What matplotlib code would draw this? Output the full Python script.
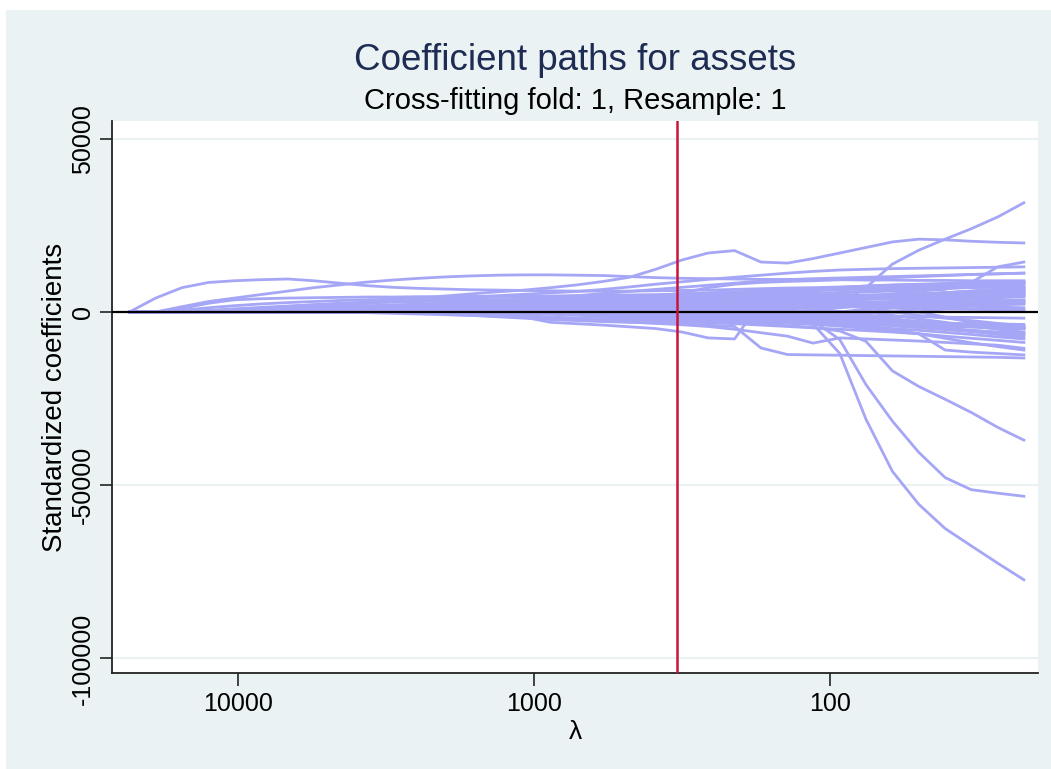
import matplotlib
matplotlib.use("Agg")
import matplotlib.pyplot as plt
from matplotlib.patches import Rectangle
from matplotlib.ticker import FixedLocator, NullLocator, FixedFormatter

# ---------------- data ----------------
# lambda grid (descending)
lambdas = [23300, 19000, 15500, 12600, 10300, 8400, 6800, 5560, 4530, 3690,
           3000, 2450, 2000, 1630, 1330, 1080, 880, 717, 584, 476,
           388, 316, 258, 210, 171, 139, 114, 92.6, 75.5, 61.5,
           50.1, 40.8, 33.3, 27.1, 22.1]
lambda_opt = 330

# standardized coefficient paths (thousands); each list holds the values from the
# step at which the variable enters the model until the smallest lambda
path_k = [
    [4.0, 7.0, 8.5, 9.0, 9.3, 9.5, 9.0, 8.3, 7.6, 7.1, 6.8, 6.6, 6.4, 6.3, 6.2, 6.1, 6.0, 6.0, 6.0, 6.1, 6.2, 6.3, 6.5, 6.7, 6.9, 7.0, 7.2, 7.4, 7.6, 7.8, 8.0, 8.2, 8.4, 8.6],
    [1.5, 3.0, 4.0, 5.0, 6.0, 7.0, 7.8, 8.6, 9.2, 9.7, 10.1, 10.4, 10.6, 10.7, 10.7, 10.6, 10.5, 10.2, 9.9, 9.7, 9.6, 9.5, 9.4, 9.4, 9.3, 9.3, 9.2, 9.2, 9.1, 9.1, 9.0, 9.0, 9.0],
    [0.5, 1.5, 2.5, 3.2, 4.0, 4.6, 5.2, 5.8, 6.3, 7.0, 7.8, 8.8, 10.0, 12.3, 15.0, 17.0, 17.7, 14.4, 14.1, 15.4, 17.0, 18.6, 20.2, 21.0, 20.8, 20.4, 20.1, 19.9],
    [-1.0, -2.5, -3.0, -1.5, 2.5, 7.0, 13.8, 17.8, 21.0, 24.0, 27.4, 31.5],
    [-0.5, -1.0, -1.5, -2.5, -3.5, -12.0, -31.0, -46.0, -55.5, -62.5, -67.5, -72.5, -77.3],
    [-0.5, -1.0, -1.5, -2.0, -2.2, -2.4, -2.5, -8.0, -21.0, -31.5, -40.5, -47.8, -51.3, -52.3, -53.2],
    [-0.3, -0.8, -1.2, -1.6, -2.0, -2.5, -3.0, -3.5, -4.0, -4.5, -5.5, -8.5, -17.0, -21.5, -25.2, -29.0, -33.3, -37.0],
    [-0.3, -0.7, -1.0, -1.4, -1.8, -2.2, -2.5, -2.8, -3.0, -3.2, -3.4, -3.8, -4.2, -10.4, -12.3, -12.4, -12.5, -12.6, -12.7, -12.8, -12.9, -13.0, -13.1, -13.3],
    [-0.3, -1.5, -3.0, -3.4, -3.8, -4.3, -4.8, -5.8, -7.5, -7.8, 3.0, 4.0, 4.3, 4.5, 4.7, 4.9, 5.0, 5.1, 5.2, 5.3, 5.5],
    [-0.2, -0.5, -0.9, -1.3, -1.7, -2.1, -2.5, -2.9, -3.3, -3.7, -4.2, -5.0, -6.0, -7.0, -9.0, -7.5, -7.8, -8.1, -8.4, -8.8, -9.2, -9.6, -10.5],
    [-0.2, -0.4, -0.6, -0.8, -1.0, -1.2, -1.4, -1.6, -1.8, -2.0, -2.2, -2.5, -2.8, -3.1, -3.4, -3.8, -4.2, -4.6, -5.0, -5.4, -5.8, -6.3, -11.0, -11.6, -12.0, -12.4],
    [-0.2, -0.5, -0.8, -1.1, -1.4, -1.7, -2.0, -2.3, -2.6, -2.9, -3.2, -3.6, -4.0, -5.0, -6.3, -7.6, -8.9, -10.0, -11.0],
    [0.3, 0.6, 0.9, 1.2, 1.5, 1.8, 2.1, 2.4, 2.7, 3.0, 3.2, 3.4, 3.6, 3.8, 4.0, 4.2, 4.4, 4.6, 4.8, 5.0, 5.2, 5.4, 5.6, 5.8, 6.0, 6.2, 6.5, 8.5, 13.0, 14.4],
    [0.3, 0.7, 1.1, 1.5, 1.9, 2.3, 2.7, 3.1, 3.5, 3.9, 4.3, 4.7, 5.1, 5.5, 5.9, 6.5, 7.2, 8.0, 8.7, 9.4, 10.0, 10.6, 11.2, 11.7, 12.1, 12.3, 12.5, 12.6, 12.7, 12.8, 12.9, 13.0],
    [0.2, 0.5, 0.8, 1.1, 1.4, 1.7, 2.0, 2.3, 2.6, 2.9, 3.2, 3.5, 3.8, 4.1, 4.4, 5.5, 7.0, 8.0, 8.5, 8.8, 9.0, 9.3, 9.6, 9.9, 10.2, 10.5, 10.8, 11.0, 11.2],
    [1.0, 2.5, 3.5, 3.8, 4.0, 4.1, 4.2, 4.3, 4.3, 4.4, 4.4, 4.5, 4.5, 4.6, 4.6, 4.7, 4.8, 4.9, 5.0, 5.2, 5.5, 5.8, 6.0, 6.3, 6.6, 6.9, 7.2, 7.5, 7.8, 8.0, 8.2, 8.4, 8.6],
    [0.5, 1.2, 1.8, 2.3, 2.7, 3.0, 3.3, 3.5, 3.7, 3.9, 4.0, 4.1, 4.2, 4.3, 4.3, 4.4, 4.4, 4.5, 4.5, 4.6, 4.6, 4.7, 4.7, 4.8, 4.8, 4.9, 4.9, 5.0, 5.0, 5.1, 5.1, 5.2, 5.2],
    [0.4, 0.9, 1.3, 1.7, 2.0, 2.3, 2.6, 2.8, 3.0, 3.2, 3.3, 3.4, 3.5, 3.6, 3.7, 3.8, 3.9, 4.0, 4.2, 4.4, 4.6, 4.8, 5.5, 6.3, 7.0, 7.5, 7.8, 8.0, 8.2, 8.3, 8.4, 8.5],
    [0.2, 0.5, 0.8, 1.1, 1.4, 1.6, 1.8, 2.0, 2.2, 2.4, 2.6, 2.8, 3.0, 3.2, 3.3, 3.4, 3.5, 3.6, 3.7, 3.8, 3.9, 4.0, 4.2, 4.4, 4.6, 4.8, 5.0, 5.3, 5.6, 5.9, 6.2, 6.5],
    [0.3, 0.6, 0.9, 1.2, 1.4, 1.6, 1.8, 2.0, 2.1, 2.2, 2.3, 2.4, 2.5, 2.6, 2.7, 2.8, 2.9, 3.0, 3.1, 3.2, 3.3, 3.4, 3.5, 3.6, 3.7, 3.8, 3.9, 4.0, 4.1, 4.2, 4.3],
    [0.2, 0.4, 0.6, 0.8, 1.0, 1.2, 1.4, 1.6, 1.8, 2.0, 2.2, 2.4, 2.6, 2.8, 3.0, 3.2, 3.0, 2.8, 2.6, 2.4, 2.2, 2.0, 1.8, 1.6, 1.4, 1.2, 1.0, 0.8, 0.6, 0.4],
    [0.2, 0.4, 0.6, 0.8, 1.0, 1.1, 1.2, 1.3, 1.4, 1.5, 1.6, 1.7, 1.8, 1.9, 2.0, 2.1, 2.2, 2.3, 2.4, 2.5, 2.6, 2.7, 2.8, 2.9, 3.0, 3.1, 3.2, 3.3, 3.4],
    [0.1, 0.3, 0.5, 0.7, 0.9, 1.1, 1.3, 1.5, 1.7, 1.9, 2.1, 2.3, 2.5, 2.7, 2.9, 3.1, 3.3, 3.5, 3.7, 3.9, 4.1, 4.3, 4.5, 4.7, 4.9, 5.1, 5.3, 5.5],
    [0.2, 0.4, 0.6, 0.8, 1.0, 1.2, 1.4, 1.6, 2.0, 2.6, 3.2, 3.8, 4.4, 5.0, 5.4, 5.7, 6.0, 6.2, 6.4, 6.6, 6.8, 7.0, 7.2, 7.4, 7.6, 7.8, 8.0],
    [0.2, 0.4, 0.6, 0.8, 1.0, 1.2, 1.4, 1.6, 1.8, 2.0, 2.2, 2.4, 2.6, 2.8, 3.0, 3.2, 3.0, 2.8, 2.6, 2.4, 2.2, 2.0, 1.8, 1.6, 1.4, 1.2],
    [0.1, 0.2, 0.3, 0.4, 0.5, 0.6, 0.7, 0.8, 0.9, 1.0, 1.1, 1.2, 1.3, 1.4, 1.5, 1.6, 1.7, 1.8, 1.9, 2.0, 2.1, 2.2, 2.3, 2.4, 2.5],
    [0.2, 0.4, 0.6, 0.8, 1.0, 1.2, 1.4, 1.6, 1.8, 2.0, 2.2, 2.4, 2.6, 2.8, 3.0, 3.5, 4.0, 4.5, 5.0, 5.5, 6.0, 6.5, 7.0],
    [0.1, 0.2, 0.3, 0.4, 0.5, 0.6, 0.7, 0.8, 0.9, 1.0, 1.1, 1.2, 1.3, 1.4, 1.5, 1.6, 1.7, 1.8, 1.9, 2.0, 2.1, 2.2],
    [-0.1, -0.3, -0.5, -0.7, -0.9, -1.1, -1.3, -1.5, -1.7, -1.9, -2.1, -2.3, -2.5, -2.7, -2.9, -3.1, -3.3, -3.5, -3.7, -3.9, -4.1, -4.3],
    [-0.2, -0.4, -0.6, -0.8, -1.0, -1.2, -1.4, -1.6, -1.8, -2.0, -2.3, -2.6, -2.9, -3.2, -3.5, -3.8, -4.1, -4.4, -4.7, -5.0],
    [-0.1, -0.2, -0.3, -0.4, -0.5, -0.6, -0.7, -0.8, -0.9, -1.0, -1.1, -1.2, -1.3, -1.4, -1.5, -1.6, -1.7, -1.8],
    [0.2, 0.5, 0.8, 1.1, 1.4, 1.7, 2.0, 2.5, 3.0, 3.5, 4.0, 4.5, 5.0, 5.5, 6.0, 6.5, 7.0],
    [-0.2, -0.5, -0.8, -1.1, -1.4, -1.7, -2.0, -2.3, -2.6, -2.9, -3.2, -3.5, -3.8, -4.1, -4.4, -4.7],
    [0.3, 0.6, 0.9, 1.2, 1.5, 1.8, 2.1, 2.4, 2.7, 3.0, 3.3, 3.6, 3.9, 4.2, 4.5],
    [-0.3, -0.6, -0.9, -1.2, -1.5, -1.8, -2.1, -2.4, -2.7, -3.0, -3.3, -3.6, -3.9, -4.2],
    [0.2, 0.5, 0.8, 1.2, 1.6, 2.0, 2.4, 2.8, 3.2, 3.6, 4.0, 4.4, 4.8],
    [-0.2, -0.6, -1.0, -1.4, -1.8, -2.2, -2.6, -3.0, -3.4, -3.8, -4.2, -4.6],
    [0.3, 0.8, 1.3, 1.8, 2.3, 2.8, 3.3, 3.8, 4.3, 4.8, 5.3],
    [-0.3, -0.8, -1.3, -1.8, -2.3, -2.8, -3.3, -3.8, -4.3, -4.8],
    [0.5, 1.2, 1.9, 2.6, 3.3, 4.0, 4.7, 5.4, 6.1],
    [-0.5, -1.5, -2.5, -3.5, -4.5, -5.5, -6.5, -7.5],
    [0.8, 1.8, 2.8, 3.8, 4.8, 5.8, 6.8],
    [-1.0, -2.0, -3.0, -4.0, -5.0, -6.0],
    [1.0, 2.0, 3.0, 4.0, 5.0],
    [-1.5, -3.0, -4.5, -6.0],
    [0.5, 1.0, 1.6, 2.1, 2.5, 2.8, 3.0, 3.1, 3.3, 3.4, 3.5, 3.6, 3.6, 3.7, 3.8, 3.9, 4.1, 4.4, 4.8, 5.1, 5.5, 5.8, 6.1, 6.4, 6.6, 6.8, 7.0, 7.1, 7.2, 7.3, 7.4],
    [0.3, 0.8, 1.4, 1.9, 2.2, 2.4, 2.5, 2.6, 2.6, 2.7, 2.7, 2.8, 2.8, 2.9, 3.0, 3.1, 3.2, 2.9, 2.5, 2.0, 1.6, 1.3, 1.1, 0.9, 0.8, 0.8, 0.7, 0.7],
    [-0.2, -0.6, -1.1, -1.5, -1.8, -2.0, -2.2, -2.3, -2.5, -2.7, -2.8, -3.0, -3.3, -3.6, -3.9, -4.3, -4.8, -5.3, -5.9, -6.5, -7.2, -7.8],
    [0.4, 0.9, 1.5, 2.0, 2.6, 3.1, 3.6, 4.0, 4.5, 5.0, 5.6, 6.2, 6.7, 7.1, 7.4, 7.7, 7.9, 8.1, 8.3, 8.5, 8.6],
    [-0.4, -0.9, -1.3, -1.6, -1.8, -1.9, -2.1, -2.3, -2.6, -3.0, -3.5, -4.1, -4.8, -5.6, -6.3, -7.0, -7.6, -8.2, -8.8],
    [0.6, 1.5, 2.3, 3.0, 3.5, 3.9, 4.2, 4.6, 5.0, 5.5, 6.0, 6.3, 6.6, 6.8, 7.0, 7.1, 7.3],
    [-0.5, -1.2, -1.8, -2.2, -2.5, -2.7, -2.8, -2.9, -3.0, -3.1, -3.2, -3.3, -3.4, -3.5, -3.6],
    [0.8, 1.6, 2.2, 2.7, 3.1, 3.4, 3.6, 3.9, 4.2, 4.6, 5.1, 5.7, 6.3],
    [-0.6, -1.4, -2.2, -2.9, -3.5, -4.0, -4.4, -4.8, -5.3, -5.9, -6.6],
    [0.5, 1.3, 2.0, 2.4, 2.7, 2.9, 3.0, 3.1, 3.2],
    [-0.8, -1.9, -2.8, -3.4, -3.9, -4.3, -4.6],
    [1.2, 2.6, 3.7, 4.5, 5.1, 5.6],
    [-1.0, -1.8, -2.5, -3.3, -4.0],
    [0.9, 1.8, 2.6, 3.3],
    [-0.7, -1.6, -2.4, -3.2, -3.9, -4.5, -5.0, -5.4, -5.8, -6.2],
    [0.4, 1.0, 1.7, 2.5, 3.4, 4.3, 5.2, 6.0, 6.7, 7.3, 7.8, 8.3],
    [-0.3, -0.7, -1.2, -1.6, -2.0, -2.4, -2.9, -3.4, -3.9, -4.5, -5.1, -5.7, -6.3, -6.9],
    [0.2, 0.5, 0.9, 1.3, 1.8, 2.3, 2.9, 3.4, 3.9, 4.3, 4.6, 4.9, 5.2, 5.5, 5.8, 6.0],
    [0.3, 0.5, 0.7, 0.9, 1.1, 1.2, 1.3, 1.4, 1.5, 1.6, 1.7, 1.8, 1.9, 2.0, 2.1, 2.2, 2.3, 2.4, 2.4, 2.5, 2.5, 2.6, 2.6, 2.7],
    [0.4, 0.8, 1.3, 1.8, 2.3, 2.9, 3.5, 4.1, 4.7, 5.3, 5.9, 6.5, 7.1, 7.7, 8.3, 8.9, 9.3, 9.6, 9.8, 10.0, 10.2, 10.4, 10.6, 10.8, 11.0, 11.2],
]

yticks = [50000, 0, -50000, -100000]
xticks = [10000, 1000, 100]
title = "Coefficient paths for assets"
subtitle = "Cross-fitting fold: 1, Resample: 1"
xlabel = "λ"
ylabel = "Standardized coefficients"

# ---------------- style ----------------
BG = "#EAF2F3"
LINE = "#A6A6F6"
RED = "#C8143C"
NAVY = "#1E2B52"
plt.rcParams["font.family"] = ["Liberation Sans", "DejaVu Sans"]

W, H = 1051, 769
fig = plt.figure(figsize=(W / 100, H / 100), dpi=100, facecolor=BG)
# white margins at top and left
fig.patches.append(Rectangle((0, 1 - 10 / H), 1, 10 / H, transform=fig.transFigure,
                             facecolor="white", edgecolor="none", zorder=-10))
fig.patches.append(Rectangle((0, 0), 6 / W, 1, transform=fig.transFigure,
                             facecolor="white", edgecolor="none", zorder=-10))

L, R, T, B = 112, 1038, 121, 673
ax = fig.add_axes([L / W, 1 - B / H, (R - L) / W, (B - T) / H])
ax.set_facecolor("white")

n = len(lambdas)
for p in path_k:
    vals = [0.0] * (n - len(p)) + [v * 1000 for v in p]
    ax.plot(lambdas, vals, color=LINE, lw=2.0, solid_joinstyle="round", zorder=2)

ax.axhline(0, color="black", lw=1.6, zorder=3)
ax.axvline(lambda_opt, color=RED, lw=1.8, zorder=4)

ax.set_xscale("log")
ax.set_xlim(26700, 19.8)
ax.set_ylim(-104200, 55100)

ax.xaxis.set_major_locator(FixedLocator(xticks))
ax.xaxis.set_major_formatter(FixedFormatter([str(v) for v in xticks]))
ax.xaxis.set_minor_locator(NullLocator())
ax.set_yticks(yticks)
ax.set_yticklabels([str(v) for v in yticks], rotation=90, va="center")

ax.grid(axis="y", color=BG, lw=1.4, zorder=0)
ax.set_axisbelow(True)

for s in ["top", "right"]:
    ax.spines[s].set_visible(False)
for s in ["left", "bottom"]:
    ax.spines[s].set_color("#222222")
    ax.spines[s].set_linewidth(1.3)

ax.tick_params(axis="both", which="major", length=9, width=1.2, color="#222222",
               labelsize=18, labelcolor="black")
ax.tick_params(axis="y", pad=3)
ax.tick_params(axis="x", pad=5)

ax.set_xlabel(xlabel, fontsize=19, color="black")
ax.set_ylabel(ylabel, fontsize=20, color="black")
ax.xaxis.set_label_coords(0.5, -0.085)
ax.yaxis.set_label_coords(-0.047, 0.5)

cx = (L + R) / 2 / W
fig.text(cx, 1 - 60 / H, title, ha="center", va="center", fontsize=26.5, color=NAVY)
fig.text(cx, 1 - 101 / H, subtitle, ha="center", va="center", fontsize=21, color="black")

fig.savefig("out.png", dpi=100, facecolor=BG)
